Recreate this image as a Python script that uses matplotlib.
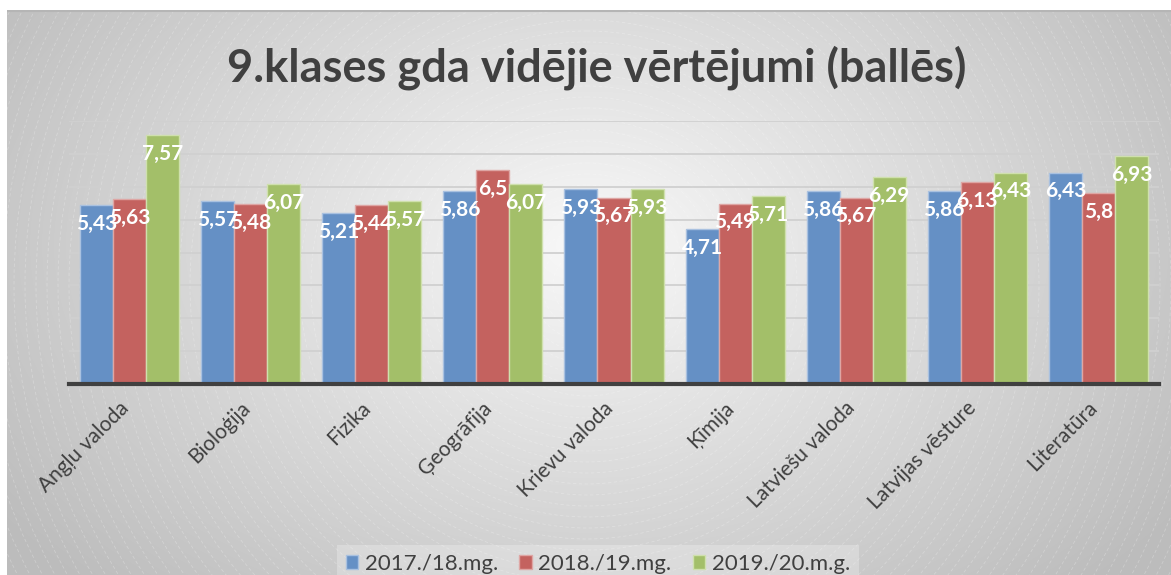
import numpy as np
import matplotlib
matplotlib.use("Agg")
import matplotlib.pyplot as plt
from matplotlib.patches import Circle
import matplotlib.transforms as mtransforms

categories = ["Angļu valoda", "Bioloģija", "Fizika", "Ģeogrāfija", "Krievu valoda",
              "Ķīmija", "Latviešu valoda", "Latvijas vēsture", "Literatūra"]
series_names = ["2017./18.mg.", "2018./19.mg.", "2019./20.m.g."]
s2017 = [5.43, 5.57, 5.21, 5.86, 5.93, 4.71, 5.86, 5.86, 6.43]
s2018 = [5.63, 5.48, 5.44, 6.5, 5.67, 5.49, 5.67, 6.13, 5.8]
s2019 = [7.57, 6.07, 5.57, 6.07, 5.93, 5.71, 6.29, 6.43, 6.93]
labels2017 = ["5,43", "5,57", "5,21", "5,86", "5,93", "4,71", "5,86", "5,86", "6,43"]
labels2018 = ["5,63", "5,48", "5,44", "6,5", "5,67", "5,49", "5,67", "6,13", "5,8"]
labels2019 = ["7,57", "6,07", "5,57", "6,07", "5,93", "5,71", "6,29", "6,43", "6,93"]
title = "9.klases gda vidējie vērtējumi (ballēs)"

colors = ["#6590c5", "#c4625f", "#a3bf69"]
edges = ["#a9c1e0", "#dea6a4", "#cfe0ad"]

W, H = 1171, 575
fig = plt.figure(figsize=(W / 100, H / 100), dpi=100)
fig.patch.set_facecolor("white")

# background gradient panel
bg = fig.add_axes([7 / W, 0, 1 - 7 / W, 1 - 10 / H])
bg.set_axis_off()
bw, bh = W - 7, H - 10
yy, xx = np.mgrid[0:bh, 0:bw]
cx, cy = 580, 235
r = np.sqrt(((xx - cx) / 640.0) ** 2 + ((yy - cy) / 420.0) ** 2)
val = np.clip(0.975 - 0.21 * r, 0.74, 1.0)
img = np.dstack([val, val, val])
bg.imshow(img, extent=[0, bw, bh, 0], aspect="auto", interpolation="bilinear")
bg.set_xlim(0, bw)
bg.set_ylim(bh, 0)
for rad in np.arange(12, 900, 11):
    c = Circle((cx, cy + 40), rad, fill=False, edgecolor="white", lw=0.6,
               alpha=0.25, linestyle=(0, (4, 3)))
    bg.add_patch(c)
bg.plot([0, bw], [0.5, 0.5], color="#b5b5b5", lw=1.5)

plt.rcParams["font.family"] = ["Lato", "DejaVu Sans"]

ax = fig.add_axes([69 / W, 1 - 384 / H, (1159 - 69) / W, (384 - 121) / H])
ax.patch.set_alpha(0)
n = len(categories)
x = np.arange(n)
bwid = 0.273
series = [s2017, s2018, s2019]
labels = [labels2017, labels2018, labels2019]
for i, (vals, labs) in enumerate(zip(series, labels)):
    pos = x + (i - 1) * bwid
    bars = ax.bar(pos, vals, width=bwid, color=colors[i], edgecolor=edges[i],
                  linewidth=1.0, label=series_names[i], zorder=3)
    for b, lab in zip(bars, labs):
        ax.annotate(lab, (b.get_x() + b.get_width() / 2, b.get_height()),
                    xytext=(0, -13.5), textcoords="offset points",
                    ha="center", va="center", color="white",
                    fontsize=15, fontweight="bold", zorder=5)

ax.set_xlim(-0.5, n - 0.5)
ax.set_ylim(0, 8)
ax.set_yticks(np.arange(0, 9, 1))
ax.yaxis.grid(True, color="#d0d0d0", lw=1.3, zorder=0)
ax.tick_params(axis="y", length=0, labelleft=False)
ax.tick_params(axis="x", length=0, pad=6)
for s in ["top", "right", "left"]:
    ax.spines[s].set_visible(False)
ax.spines["bottom"].set_color("#404040")
ax.spines["bottom"].set_linewidth(3)
ax.spines["bottom"].set_zorder(4)
ax.set_xticks(x)
ax.set_xticklabels(categories, rotation=45, ha="right", va="top",
                   rotation_mode="anchor", fontsize=15, color="#404040")
offset = mtransforms.ScaledTranslation(-8 / 72, -4 / 72, fig.dpi_scale_trans)
for lbl in ax.get_xticklabels():
    lbl.set_transform(lbl.get_transform() + offset)

fig.text(597 / W, 1 - 68 / H, title, ha="center", va="center", fontsize=32.5,
         fontweight="bold", color="#404040")

leg = ax.legend(loc="center",
                bbox_to_anchor=((598 - 69) / (1159 - 69), (384 - 564) / (384 - 121)),
                ncol=3, frameon=True, fontsize=16, handlelength=0.55,
                handleheight=0.55, handletextpad=0.3, columnspacing=0.95,
                borderpad=0.2)
leg.get_frame().set_facecolor("#ffffff")
leg.get_frame().set_alpha(0.25)
leg.get_frame().set_edgecolor("none")
leg.get_frame().set_boxstyle("square", pad=0.2)
for t in leg.get_texts():
    t.set_color("#404040")

fig.savefig("out.png", dpi=100)
